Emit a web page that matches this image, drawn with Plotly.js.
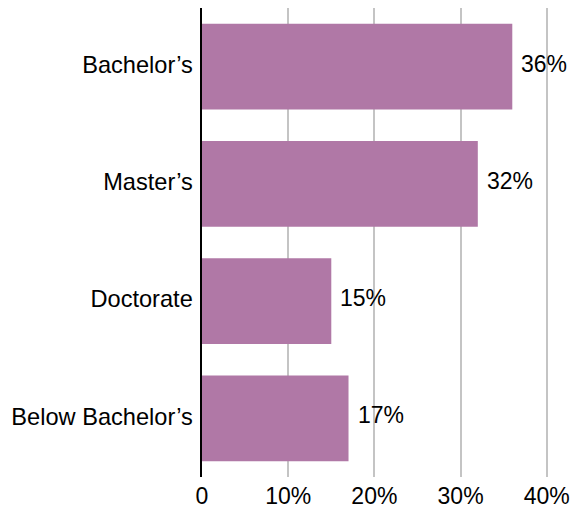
<!DOCTYPE html>
<html>
<head>
<meta charset="utf-8">
<script src="https://cdn.plot.ly/plotly-3.0.1.min.js"></script>
<style>html,body{margin:0;padding:0;background:#fff;}#chart{width:582px;height:510px;}</style>
</head>
<body>
<div id="chart"></div>
<script>
const categories = ["Bachelor’s", "Master’s", "Doctorate", "Below Bachelor’s"];
const values = [36, 32, 15, 17];
const valueLabels = ["36%", "32%", "15%", "17%"];
const tickValues = [0, 10, 20, 30, 40];
const tickLabels = ["0", "10%", "20%", "30%", "40%"];

const font = {family: "Liberation Sans, Arial, sans-serif", size: 23, color: "#000"};
const catFont = {family: "Liberation Sans, Arial, sans-serif", size: 23.6, color: "#000"};

const trace = {
  type: "bar",
  orientation: "h",
  y: categories,
  x: values,
  marker: {color: "#b078a6"},
  hoverinfo: "none"
};

const annotations = values.map((v, i) => ({
  x: v, y: categories[i], xref: "x", yref: "y",
  text: valueLabels[i], showarrow: false,
  xanchor: "left", yanchor: "middle", xshift: 7, yshift: 3,
  font: font
}));

const layout = {
  width: 582, height: 510,
  margin: {l: 202, r: 18, t: 8, b: 33, pad: 0},
  paper_bgcolor: "#fff", plot_bgcolor: "#fff",
  font: font,
  showlegend: false,
  bargap: 0.27,
  xaxis: {
    range: [0, 42], tickvals: tickValues, ticktext: tickLabels,
    showgrid: true, gridcolor: "#c4c4c4", gridwidth: 2,
    zeroline: false, showline: false, ticks: "", fixedrange: true,
    ticklabelstandoff: 3, tickfont: font
  },
  yaxis: {
    autorange: "reversed", categoryorder: "array", categoryarray: categories,
    showgrid: false, zeroline: false, showline: true, linecolor: "#000", linewidth: 2.5,
    ticks: "", ticklabelstandoff: 2, ticklabelshift: 2, tickfont: catFont, fixedrange: true
  },
  annotations: annotations
};

Plotly.newPlot("chart", [trace], layout, {displayModeBar: false, staticPlot: true});
</script>
</body>
</html>
